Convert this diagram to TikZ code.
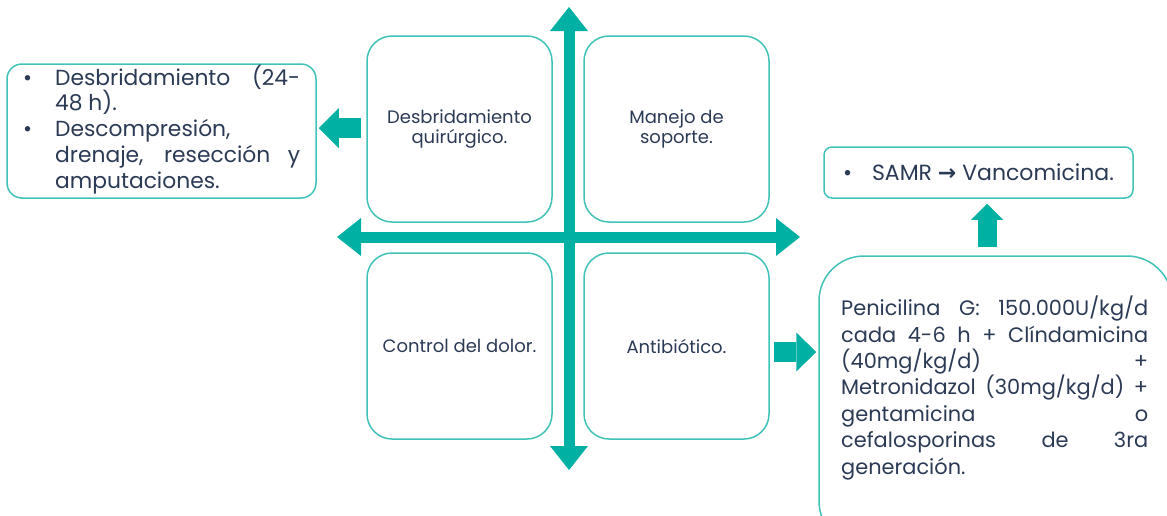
\documentclass[tikz,border=0pt]{standalone}
\usepackage{fontspec}
\setmainfont{Poppins}
\newfontfamily\symf{DejaVu Sans}
\usetikzlibrary{arrows.meta,calc}
\definecolor{teal1}{HTML}{00B0A3}
\definecolor{tealb}{HTML}{40C2B8}
\definecolor{navy}{HTML}{2B3A55}
\newcommand\bigtxt{\fontsize{20.9}{26.4}\selectfont}
\newcommand\lefttxt{\fontsize{21.8}{25.75}\selectfont}
\begin{document}
\begin{tikzpicture}[x=1pt,y=-1pt,
  box/.style={draw=tealb, line width=1.5pt, rounded corners=#1, inner sep=0pt, fill=white},
  quad/.style={box=25pt, minimum width=185pt, minimum height=186pt, align=center,
               text=navy, font=\fontsize{18}{20.5}\selectfont},
  axis/.style={teal1, line width=11pt,
               {Triangle[width=38pt,length=24pt,line width=0pt]}-{Triangle[width=38pt,length=24pt,line width=0pt]}},
  blk/.style n args={3}{teal1, line width=#1pt, -{Triangle[width=#2pt,length=#3pt,line width=0pt]}},
  txt/.style={anchor=base west, inner sep=0pt, text=navy}
]
\useasboundingbox (0,0) rectangle (1167,515);
\clip (0,0) rectangle (1167,515);

% quadrant boxes
\node[quad] (q1) at (459.5,129) {Desbridamiento\\quirúrgico.};
\node[quad] (q2) at (676.5,129) {Manejo de\\soporte.};
\node[quad] (q3) at (459.5,346) {Control del dolor.};
\node[quad] (q4) at (676.5,346) {Antibiótico.};

% left box
\node[box=15pt, minimum width=309pt, minimum height=134pt] (lbox) at (161.5,131) {};
\node[txt, font=\lefttxt] (ltext) at (20,85) {\parbox[t]{281pt}{%
\makebox[35pt][l]{\hspace{3pt}•}\makebox[245pt][s]{Desbridamiento (24-}\par
\hspace*{35pt}48 h).\par
\makebox[35pt][l]{\hspace{3pt}•}Descompresión,\par
\hspace*{35pt}\makebox[245pt][s]{drenaje, resección y}\par
\hspace*{35pt}amputaciones.}};

% SAMR box
\node[box=8pt, minimum width=309pt, minimum height=51pt, text=navy, font=\fontsize{22}{24}\selectfont] (samr) at (978.5,172.5)
  {\makebox[29pt][l]{•}SAMR {\symf\bfseries →} Vancomicina.};

% big antibiotic box
\node[box=45pt, minimum width=353pt, minimum height=290pt] (abx) at (995.5,401) {};
\node[txt, font=\bigtxt] (abtext) at (841,315.7) {\parbox[t]{307pt}{%
\makebox[307pt][s]{Penicilina G: 150.000U/kg/d}\par
\makebox[307pt][s]{cada 4-6 h + Clíndamicina}\par
\makebox[307pt][s]{(40mg/kg/d) +}\par
\makebox[307pt][s]{Metronidazol (30mg/kg/d) +}\par
\makebox[307pt][s]{gentamicina o}\par
\makebox[307pt][s]{cefalosporinas de 3ra}\par
generación.}};

% axes
\coordinate (axT) at (569,7);
\coordinate (axB) at (569,470);
\coordinate (axL) at (337,237);
\coordinate (axR) at (800,237);
\draw[axis] (axT) -- (axB);
\draw[axis] (axL) -- (axR);

% block arrows
\draw[blk={20}{40}{20}] ($(q1.west)+(-5,-1)$) -- ($(lbox.east |- q1.west)+(2,-1)$);
\draw[blk={20}{39}{20}] ($(q4.east)+(4,6)$) -- ($(abx.west |- q4.east)+(-2,6)$);
\draw[blk={19}{32}{16}] ($(abx.north)+(-8.5,-8)$) -- ($(abx.north |- samr.south)+(-8.5,5)$);
\end{tikzpicture}
\end{document}
